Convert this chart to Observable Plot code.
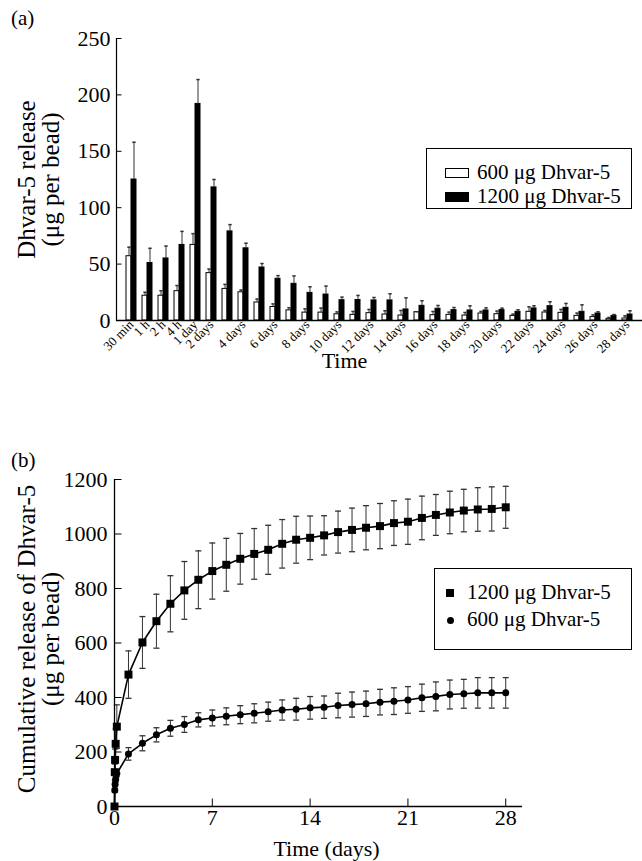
<!DOCTYPE html>
<html><head><meta charset="utf-8">
<script src="https://cdn.jsdelivr.net/npm/d3@7"></script>
<script src="https://cdn.jsdelivr.net/npm/@observablehq/plot@0.6"></script>
<style>
body{margin:0;background:#fff;font-family:"Liberation Serif","Times New Roman",serif;color:#000;}
#page{position:relative;width:642px;height:861px;overflow:hidden;background:#fff;}
.abs{position:absolute;}
.plbl{position:absolute;font-size:21px;line-height:21px;}
.legend{position:absolute;border:1px solid #000;background:#fff;box-sizing:border-box;}
.ltxt{position:absolute;font-size:21px;line-height:21px;white-space:nowrap;}
</style></head><body><div id="page"></div>
<script>
// ---------- Panel (a) data ----------
const groups = ["30 min","1 h","2 h","4 h","1 day","2 days","3 days","4 days","5 days","6 days","7 days","8 days","9 days","10 days","11 days","12 days","13 days","14 days","15 days","16 days","17 days","18 days","19 days","20 days","21 days","22 days","23 days","24 days","25 days","26 days","27 days","28 days"];
const tickLabelsA = ["30 min","1 h","2 h","4 h","1 day","2 days","4 days","6 days","8 days","10 days","12 days","14 days","16 days","18 days","20 days","22 days","24 days","26 days","28 days"];
const release600 = [57,22,22,26,67,42,28,25,16,12,9,7,7,5.5,5,6.5,5.3,4.4,7.4,4.7,5,4.4,6.2,5.6,4.1,7.7,7.1,6.8,4.1,3,1.5,1.8];
const error600 = [8,3,4.4,5,10,3.6,4,2,3,2.7,2.3,3.3,4,2.1,3,3.3,3.3,4.5,0.4,3.3,2.4,2.7,1.8,2.7,1.5,4.4,1.8,3,2.4,2,1.2,2.3];
const release1200 = [125,51,55,67,192,118,79,64,47,37,32.5,24.5,23,18,18.2,17.8,17.8,9.8,13,10.4,9.2,8.9,8.9,9.2,7.7,10.7,12.7,11.2,7.7,6.2,4.1,5.3];
const error1200 = [33,13,11,12,21.6,7,6,4.5,3.5,2.8,7,5.4,7.5,2.7,4,2.6,5.9,10.3,4.5,2.9,2.3,4.1,2.3,1.7,1.8,2.3,3.9,3.9,6.2,1.5,1.2,3.3];
const yTicksA = [0,50,100,150,200,250];

// ---------- Panel (b) data ----------
const timeDays = [0,0.021,0.042,0.083,0.167,1,2,3,4,5,6,7,8,9,10,11,12,13,14,15,16,17,18,19,20,21,22,23,24,25,26,27,28];
const cum1200 = [0,126,171,230,293,484,602,680,744,793,832,864,887,909,927,942,964,979,986,995,1007,1015,1023,1029,1040,1045,1059,1070,1079,1086,1090,1092,1098];
const cumErr1200 = [0,30,40,55,80,87,95,99,103,106,106,103,97,93,93,90,89,86,80,72,77,80,81,83,82,83,80,75,78,78,80,81,77];
const cum600 = [0,60,82,100,121,193,232,263,287,301,318,325,331,337,342,348,354,357,362,364.5,370.6,374,377,383,386.5,391,399,404,411,413.5,417,417,417];
const cumErr600 = [0,8,8,10,12,23,27.5,26,29,29,26,29,31,33,35,35,37,40,41.5,41,45,46,46.5,47,49,49,50,53,53,53,56,56,56];
const xTicksB = [0,7,14,21,28];
const yTicksB = [0,200,400,600,800,1000,1200];

const FONT = '"Liberation Serif","Times New Roman",serif';
const page = document.getElementById("page");

function sym(fn){ return {draw(c){ fn(c); }}; }
const capA = sym(c=>{c.moveTo(-1.7,0);c.lineTo(1.7,0);});
const capB = sym(c=>{c.moveTo(-3,0);c.lineTo(3,0);});
const tickRightA = sym(c=>{c.moveTo(0,0);c.lineTo(5,0);});
const tickRightB = sym(c=>{c.moveTo(0,0);c.lineTo(7,0);});
const tickUpB = sym(c=>{c.moveTo(0,0);c.lineTo(0,-8);});

// ---------- Panel (a) ----------
const dataA = groups.map((g,i)=>({g, v6:release600[i], e6:error600[i], v12:release1200[i], e12:error1200[i]}));
const plotA = Plot.plot({
  width:642, height:380, marginLeft:116, marginRight:0, marginTop:38, marginBottom:60,
  style:{fontFamily:FONT, background:"transparent", overflow:"visible", color:"#000"},
  x:{type:"band", domain:groups, paddingInner:0.4, paddingOuter:0.1},
  y:{domain:[0,250]},
  marks:[
    Plot.barY(dataA,{x:"g", y:"v6", fill:"white", stroke:"black", strokeWidth:1, insetRight:5}),
    Plot.barY(dataA,{x:"g", y:"v12", fill:"black", stroke:"black", strokeWidth:1, insetLeft:5}),
    Plot.ruleX(dataA,{x:"g", y1:"v6", y2:d=>d.v6+d.e6, dx:-2.5, stroke:"#333", strokeWidth:1}),
    Plot.dot(dataA,{x:"g", y:d=>d.v6+d.e6, dx:-2.5, symbol:capA, stroke:"#333", strokeWidth:1.5}),
    Plot.ruleX(dataA,{x:"g", y1:"v12", y2:d=>d.v12+d.e12, dx:2.5, stroke:"#333", strokeWidth:1}),
    Plot.dot(dataA,{x:"g", y:d=>d.v12+d.e12, dx:2.5, symbol:capA, stroke:"#333", strokeWidth:1.5}),
    Plot.ruleY([0],{stroke:"black", strokeWidth:1.5}),
    Plot.frame({anchor:"left", stroke:"black", strokeWidth:1.2}),
    Plot.dot(yTicksA,{y:d=>d, frameAnchor:"left", symbol:tickRightA, stroke:"black", strokeWidth:1}),
    Plot.axisY({ticks:yTicksA, tickSize:0, tickPadding:6, label:null, fontSize:22, tickFormat:d3.format("d")}),
    Plot.axisX({ticks:tickLabelsA, tickSize:0, tickPadding:2, tickRotate:-45, label:null, fontSize:13}),
    Plot.text(["Dhvar-5 release\n(μg per bead)"],{frameAnchor:"left", dx:-77, rotate:-90, fontSize:25, lineHeight:0.96, textAnchor:"middle", lineAnchor:"middle"}),
    Plot.text(["Time"],{frameAnchor:"bottom", dx:-35, dy:40, fontSize:22, textAnchor:"middle", lineAnchor:"middle"})
  ]
});
const wa = document.createElement("div"); wa.className="abs"; wa.style.left="0px"; wa.style.top="0px";
wa.appendChild(plotA); page.appendChild(wa);

// ---------- Panel (b) ----------
const dataB = timeDays.map((t,i)=>({t, v12:cum1200[i], e12:cumErr1200[i], v6:cum600[i], e6:cumErr600[i]}));
const errB12 = dataB.filter(d=>d.e12>0), errB6 = dataB.filter(d=>d.e6>0);
const plotB = Plot.plot({
  width:642, height:421, marginLeft:114, marginRight:120, marginTop:39, marginBottom:55,
  style:{fontFamily:FONT, background:"transparent", overflow:"visible", color:"#000"},
  x:{domain:[0,29.2]},
  y:{domain:[0,1200]},
  marks:[
    Plot.ruleX(errB12,{x:"t", y1:d=>d.v12-d.e12, y2:d=>d.v12+d.e12, stroke:"#333", strokeWidth:1}),
    Plot.dot(errB12,{x:"t", y:d=>d.v12-d.e12, symbol:capB, stroke:"#333", strokeWidth:1.3}),
    Plot.dot(errB12,{x:"t", y:d=>d.v12+d.e12, symbol:capB, stroke:"#333", strokeWidth:1.3}),
    Plot.ruleX(errB6,{x:"t", y1:d=>d.v6-d.e6, y2:d=>d.v6+d.e6, stroke:"#333", strokeWidth:1}),
    Plot.dot(errB6,{x:"t", y:d=>d.v6-d.e6, symbol:capB, stroke:"#333", strokeWidth:1.3}),
    Plot.dot(errB6,{x:"t", y:d=>d.v6+d.e6, symbol:capB, stroke:"#333", strokeWidth:1.3}),
    Plot.line(dataB,{x:"t", y:"v12", stroke:"black", strokeWidth:1.6}),
    Plot.line(dataB,{x:"t", y:"v6", stroke:"black", strokeWidth:1.6}),
    Plot.dot(dataB,{x:"t", y:"v6", symbol:"circle", r:3.5, fill:"black"}),
    Plot.dot(dataB,{x:"t", y:"v12", symbol:"square", r:4.5, fill:"black"}),
    Plot.ruleY([0],{stroke:"black", strokeWidth:1.3}),
    Plot.ruleX([0],{stroke:"black", strokeWidth:1.3}),
    Plot.dot(yTicksB,{y:d=>d, frameAnchor:"left", symbol:tickRightB, stroke:"black", strokeWidth:1}),
    Plot.dot(xTicksB,{x:d=>d, frameAnchor:"bottom", symbol:tickUpB, stroke:"black", strokeWidth:1}),
    Plot.axisY({ticks:yTicksB, tickSize:0, tickPadding:7, label:null, fontSize:22, tickFormat:d3.format("d")}),
    Plot.axisX({ticks:xTicksB, tickSize:0, tickPadding:3, label:null, fontSize:22, tickFormat:d3.format("d")}),
    Plot.text(["Cumulative release of Dhvar-5\n(μg per bead)"],{frameAnchor:"left", dx:-75, dy:-4, rotate:-90, fontSize:25, lineHeight:0.96, textAnchor:"middle", lineAnchor:"middle"}),
    Plot.text(["Time (days)"],{frameAnchor:"bottom", dx:8, dy:42, fontSize:22, textAnchor:"middle", lineAnchor:"middle"})
  ]
});
const wb = document.createElement("div"); wb.className="abs"; wb.style.left="0px"; wb.style.top="440px";
wb.appendChild(plotB); page.appendChild(wb);

// ---------- panel labels ----------
function addText(txt, left, top, cls){ const d=document.createElement("div"); d.className=cls; d.textContent=txt; d.style.left=left+"px"; d.style.top=top+"px"; page.appendChild(d); return d; }
addText("(a)", 11, 8, "plbl");
addText("(b)", 11, 450, "plbl");

// ---------- legends ----------
function box(left, top, w, h){ const d=document.createElement("div"); d.className="legend"; Object.assign(d.style,{left:left+"px",top:top+"px",width:w+"px",height:h+"px"}); page.appendChild(d); return d; }
function sw(left, top, w, h, fill, radius){ const d=document.createElement("div"); Object.assign(d.style,{position:"absolute",left:left+"px",top:top+"px",width:w+"px",height:h+"px",background:fill,border:fill==="#fff"?"1px solid #000":"none",boxSizing:"border-box",borderRadius:radius||"0"}); page.appendChild(d); }
box(426,148,206,61);
sw(445,168,24,10,"#fff");
addText("600 μg Dhvar-5", 477, 162, "ltxt");
sw(445,192,24,10,"#000");
addText("1200 μg Dhvar-5", 477, 186, "ltxt");

box(434,568,198,82);
sw(446,589,8,8,"#000");
addText("1200 μg Dhvar-5", 467, 582, "ltxt");
sw(446.5,616.5,7,7,"#000","50%");
addText("600 μg Dhvar-5", 467, 609, "ltxt");
</script></body></html>
